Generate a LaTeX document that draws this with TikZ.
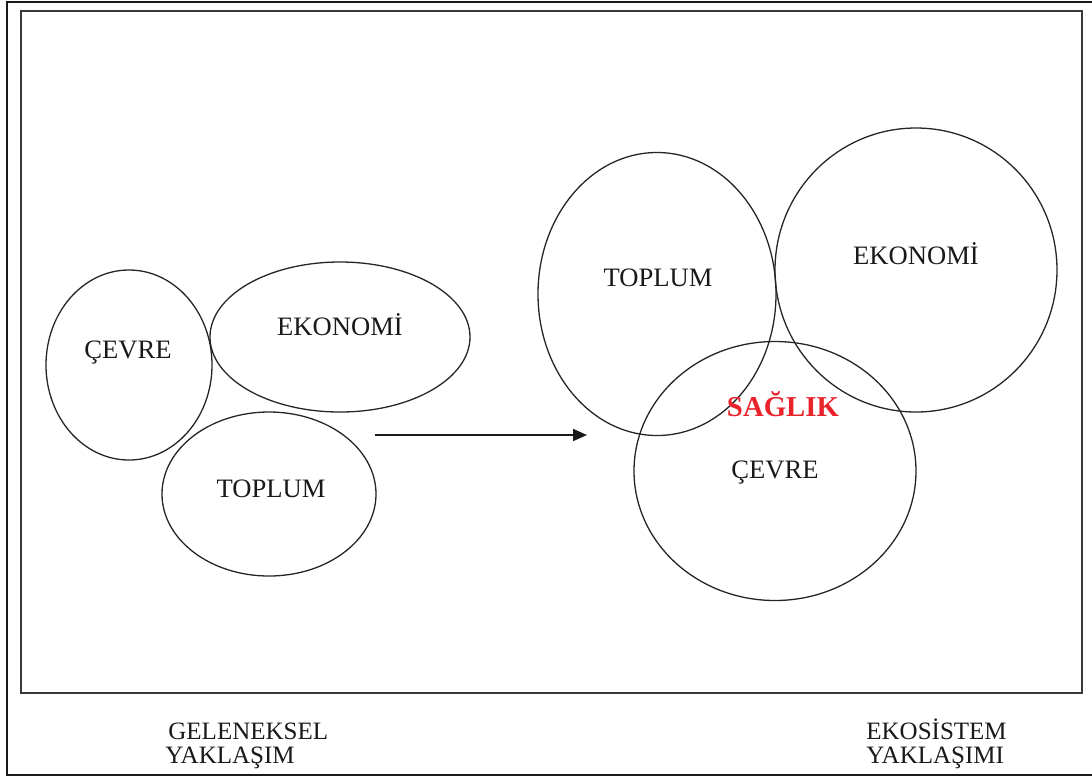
\documentclass[tikz,border=0pt]{standalone}
\usepackage{fontspec}
\setmainfont{Liberation Serif}
\usetikzlibrary{arrows.meta, shapes.geometric}
\definecolor{inkframe}{HTML}{1A1A1A}
\definecolor{inkbox}{HTML}{3A3A3A}
\definecolor{inkring}{HTML}{262626}
\definecolor{inkred}{HTML}{E8232B}

\begin{document}
\begin{tikzpicture}[x=0.5pt, y=-0.5pt,
    font=\fontsize{12.5}{12}\selectfont,
    ring/.style={ellipse, draw=inkring, line width=0.65pt, inner sep=0pt, outer sep=0pt},
    word/.style={inner sep=0pt, text=black!90},
    big/.style={word, font=\fontsize{13.3}{14}\selectfont}]
  \useasboundingbox (0,0) rectangle (1092,778);
  % frames
  \draw[inkframe, line width=1.4pt] (1092,2) -- (7,2) -- (7,775) -- (1092,775);
  \draw[inkbox, line width=1pt] (21,11) rectangle (1082,693);
  % geleneksel: three separate rings
  \foreach \name/\x/\y/\w/\h in {cevreA/129/365/83/95, ekonomiA/340/337/130/75,
      toplumA/269/494/107/82}{%
    \node[ring, minimum width=\w pt, minimum height=\h pt] (\name) at (\x,\y) {};}
  % ekosistem: overlapping rings
  \foreach \name/\x/\y/\w/\h in {toplumB/657/294/119/141.5, ekonomiB/916/270/141/142,
      cevreB/775/471/141/129.5}{%
    \node[ring, minimum width=\w pt, minimum height=\h pt] (\name) at (\x,\y) {};}
  % labels
  \foreach \name/\x/\y/\lab in {tCevreA/128/353/ÇEVRE, tEkonomiA/340/325/EKONOMİ,
      tToplumA/271/489/TOPLUM, tToplumB/658/278/TOPLUM, tEkonomiB/916/254/EKONOMİ,
      tCevreB/775/473/ÇEVRE}{%
    \node[big] (\name) at (\x,\y) {\lab};}
  \node[word, text=inkred, font=\fontsize{14.4}{15}\selectfont\bfseries] (tSaglik) at (783,404) {SAĞLIK};
  % arrow
  \coordinate (arrS) at (375,435);
  \coordinate (arrE) at (587,435);
  \draw[inkframe, line width=0.9pt, -{Triangle[length=7pt, width=6pt]}] (arrS) -- (arrE);
  % captions
  \node[word, anchor=base west] (capA1) at (168,739) {GELENEKSEL};
  \node[word, anchor=base west] (capA2) at (165,763) {YAKLAŞIM};
  \node[word, anchor=base west] (capB1) at (866,739) {EKOSİSTEM};
  \node[word, anchor=base west] (capB2) at (866,763) {YAKLAŞIMI};
\end{tikzpicture}
\end{document}
